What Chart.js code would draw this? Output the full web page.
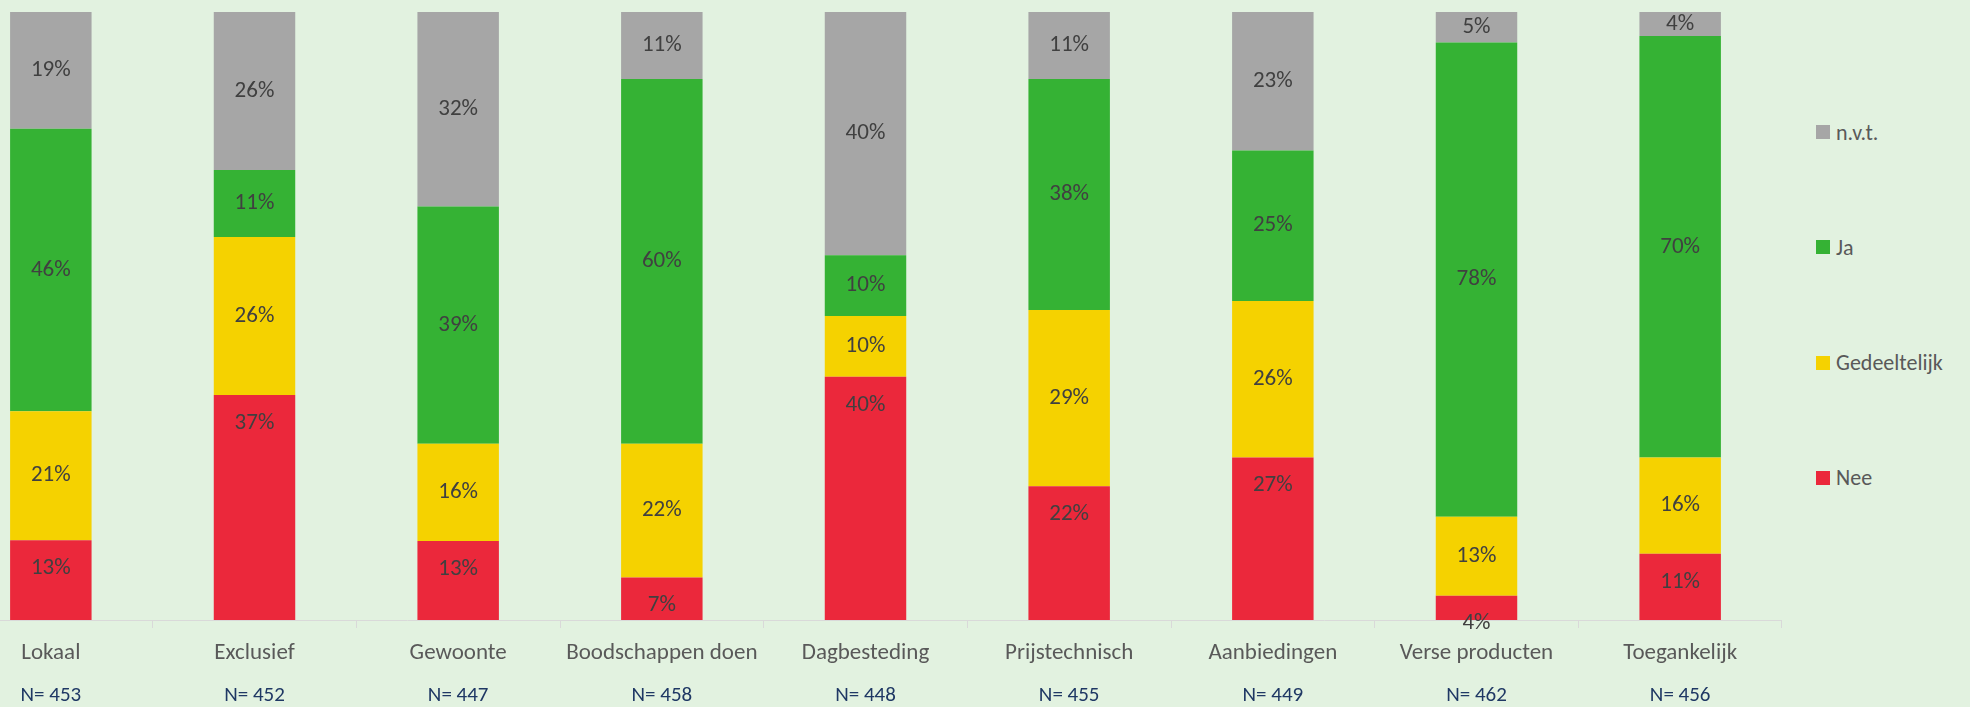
<!DOCTYPE html>
<html>
<head>
<meta charset="utf-8">
<script src="https://cdn.jsdelivr.net/npm/chart.js@4.4.1/dist/chart.umd.min.js"></script>
<style>
  html, body { margin:0; padding:0; background:#E2F2E0; width:1970px; height:707px; overflow:hidden; font-family:Carlito, Lato, sans-serif; }
  #wrap { position:absolute; left:-51px; top:0; width:1833px; height:707px; }
  #legend { position:absolute; left:1816px; top:0; }
  .li { position:absolute; left:0; height:24px; display:flex; align-items:center; white-space:nowrap; font-size:22px; color:#595959; }
  .li .box { width:14px; height:14px; margin-right:6px; }
</style>
</head>
<body>
<div id="wrap"><canvas id="c"></canvas></div>
<div id="legend"></div>
<script>
const FONT = "Carlito, Lato, sans-serif";

const categories = ["Lokaal","Exclusief","Gewoonte","Boodschappen doen","Dagbesteding","Prijstechnisch","Aanbiedingen","Verse producten","Toegankelijk"];
const nLabels = ["N= 453","N= 452","N= 447","N= 458","N= 448","N= 455","N= 449","N= 462","N= 456"];

// percentages as printed on the bars
const nee          = [13, 37, 13,  7, 40, 22, 27,  4, 11];
const gedeeltelijk = [21, 26, 16, 22, 10, 29, 26, 13, 16];
const ja           = [46, 11, 39, 60, 10, 38, 25, 78, 70];
const nvt          = [19, 26, 32, 11, 40, 11, 23,  5,  4];

// 100% stacked: every column is scaled to its own total
const totals = categories.map((_, i) => nee[i] + gedeeltelijk[i] + ja[i] + nvt[i]);
const share = arr => arr.map((v, i) => v / totals[i] * 100);

function ds(label, values, color, labelPos) {
  return { label, data: share(values), shown: values, backgroundColor: color, borderWidth: 0,
           barPercentage: 0.4, categoryPercentage: 1, labelPos };
}

// data labels, centred in the segment (Nee: inside end)
const segmentLabels = {
  id: "segmentLabels",
  afterDatasetsDraw(chart) {
    const ctx = chart.ctx;
    ctx.save();
    ctx.font = "23px " + FONT;
    ctx.fillStyle = "#404040";
    ctx.textAlign = "center";
    ctx.textBaseline = "middle";
    chart.data.datasets.forEach((d, di) => {
      chart.getDatasetMeta(di).data.forEach((bar, i) => {
        const y = d.labelPos === "end" ? bar.y + 28 : (bar.y + bar.base) / 2;
        ctx.fillText(d.shown[i] + "%", bar.x, y);
      });
    });
    ctx.restore();
  }
};

const chart = new Chart(document.getElementById("c"), {
  type: "bar",
  data: {
    labels: categories,
    datasets: [
      ds("Nee", nee, "#EB283B", "end"),
      ds("Gedeeltelijk", gedeeltelijk, "#F5D200"),
      ds("Ja", ja, "#35B234"),
      ds("n.v.t.", nvt, "#A6A6A6")
    ]
  },
  options: {
    responsive: true,
    maintainAspectRatio: false,
    animation: false,
    layout: { padding: { top: 12, left: 0, right: 0, bottom: 0 } },
    plugins: { legend: { display: false }, tooltip: { enabled: false } },
    scales: {
      y: { stacked: true, display: false, min: 0, max: 100 },
      x: {
        stacked: true, offset: true, weight: 1,
        grid: { display: true, drawOnChartArea: false, drawTicks: true, tickLength: 8, offset: true, color: "#D9D9D9" },
        border: { display: true, color: "#D9D9D9", width: 1 },
        ticks: { color: "#595959", font: { size: 23, family: FONT }, padding: 11, maxRotation: 0, autoSkip: false },
        afterFit: s => { s.height = 52; }
      },
      x2: {
        type: "category", labels: nLabels, position: "bottom", offset: true, weight: 2,
        grid: { display: false }, border: { display: false },
        ticks: { color: "#1F3864", font: { size: 21, family: FONT }, padding: 3, maxRotation: 0, autoSkip: false },
        afterFit: s => { s.height = 35; }
      }
    }
  },
  plugins: [segmentLabels]
});

// legend, top item = last dataset
const legend = document.getElementById("legend");
chart.data.datasets.slice().reverse().forEach((d, i) => {
  const el = document.createElement("div");
  el.className = "li";
  el.style.top = (120 + i * 115.3) + "px";
  el.innerHTML = `<span class="box" style="background:${d.backgroundColor}"></span>${d.label}`;
  legend.appendChild(el);
});
</script>
</body>
</html>
